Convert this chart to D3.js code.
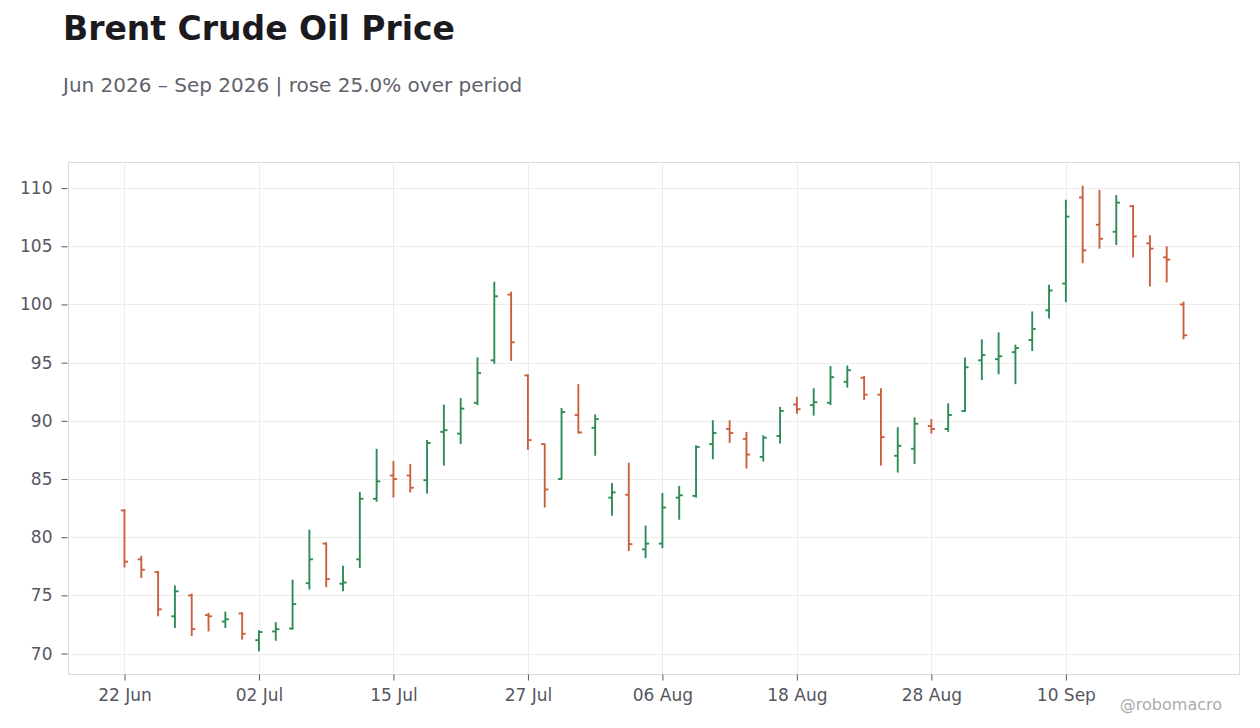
<!DOCTYPE html>
<html>
<head>
<meta charset="utf-8">
<script src="https://cdn.jsdelivr.net/npm/d3@7"></script>
<style>
  html, body { margin: 0; padding: 0; background: #ffffff; }
  svg { display: block; font-family: "DejaVu Sans", sans-serif; }
</style>
</head>
<body>
<svg id="chart" width="1260" height="728"></svg>
<script>
// ---- Data ----
const dates = [
  "2026-06-22","2026-06-23","2026-06-24","2026-06-25","2026-06-26","2026-06-29","2026-06-30","2026-07-01",
  "2026-07-02","2026-07-06","2026-07-07","2026-07-08","2026-07-09","2026-07-10","2026-07-13","2026-07-14",
  "2026-07-15","2026-07-16","2026-07-17","2026-07-20","2026-07-21","2026-07-22","2026-07-23","2026-07-24",
  "2026-07-27","2026-07-28","2026-07-29","2026-07-30","2026-07-31","2026-08-03","2026-08-04","2026-08-05",
  "2026-08-06","2026-08-07","2026-08-10","2026-08-11","2026-08-12","2026-08-13","2026-08-14","2026-08-17",
  "2026-08-18","2026-08-19","2026-08-20","2026-08-21","2026-08-24","2026-08-25","2026-08-26","2026-08-27",
  "2026-08-28","2026-08-31","2026-09-01","2026-09-02","2026-09-03","2026-09-04","2026-09-08","2026-09-09",
  "2026-09-10","2026-09-11","2026-09-14","2026-09-15","2026-09-16","2026-09-17","2026-09-18","2026-09-21"
];
const openValues = [
  82.3, 78.1, 77.0, 73.2, 75.0, 73.3, 72.75, 73.45, 71.15, 71.9, 72.15, 76.05, 79.45, 76.0, 78.1, 83.3,
  85.3, 85.3, 84.9, 89.05, 88.9, 91.55, 95.2, 100.85, 93.9, 88.0, 85.0, 90.5, 89.4, 83.4, 83.65, 78.95,
  79.45, 83.4, 83.55, 88.0, 89.3, 88.45, 86.9, 88.7, 91.4, 91.35, 91.55, 93.35, 93.7, 92.25, 87.0, 87.6,
  89.55, 89.3, 90.85, 95.2, 95.3, 95.9, 96.95, 99.5, 101.8, 109.2, 106.85, 106.25, 108.45, 105.25, 104.05, 100.0
];
const highValues = [
  82.4, 78.4, 77.1, 75.85, 75.15, 73.5, 73.6, 73.55, 72.0, 72.7, 76.35, 80.65, 79.55, 77.55, 83.9, 87.6,
  86.55, 86.3, 88.35, 91.4, 91.95, 95.45, 101.95, 101.1, 94.0, 88.05, 91.1, 93.15, 90.55, 84.65, 86.4, 81.0,
  83.8, 84.4, 87.9, 90.05, 90.05, 89.05, 88.75, 91.2, 92.05, 92.8, 94.7, 94.75, 93.85, 92.8, 89.45, 90.3,
  90.15, 91.5, 95.45, 97.0, 97.6, 96.55, 99.4, 101.7, 109.0, 110.2, 109.85, 109.4, 108.55, 105.95, 105.0, 100.25
];
const lowValues = [
  77.4, 76.5, 73.2, 72.2, 71.5, 71.9, 72.2, 71.2, 70.2, 71.1, 72.05, 75.5, 75.7, 75.35, 77.35, 83.05,
  83.4, 83.85, 83.75, 86.15, 88.0, 91.35, 94.9, 95.15, 87.5, 82.55, 84.95, 88.9, 87.0, 81.85, 78.8, 78.2,
  79.05, 81.5, 83.4, 86.7, 88.1, 85.9, 86.5, 88.05, 90.6, 90.45, 91.35, 92.85, 91.8, 86.15, 85.55, 86.3,
  88.9, 89.05, 90.75, 93.5, 94.0, 93.15, 96.0, 98.8, 100.2, 103.55, 104.8, 105.1, 104.05, 101.55, 101.9, 97.0
];
const closeValues = [
  77.9, 77.2, 73.8, 75.35, 72.1, 73.2, 72.95, 71.7, 71.85, 72.1, 74.25, 78.1, 76.4, 76.1, 83.3, 84.8,
  85.0, 84.25, 88.1, 89.2, 91.05, 94.1, 100.7, 96.75, 88.35, 84.1, 90.75, 89.0, 90.15, 83.85, 79.4, 79.45,
  82.55, 83.6, 87.75, 88.95, 88.95, 87.1, 88.55, 90.85, 91.0, 91.6, 93.75, 94.35, 92.25, 88.6, 87.85, 89.75,
  89.3, 90.5, 94.6, 95.65, 95.55, 96.25, 97.9, 101.2, 107.55, 104.65, 105.65, 108.75, 105.85, 104.8, 103.85, 97.35
];
const xTickIndex = [0, 8, 16, 24, 32, 40, 48, 56];
const xTickLabels = ["22 Jun", "02 Jul", "15 Jul", "27 Jul", "06 Aug", "18 Aug", "28 Aug", "10 Sep"];
const yTickValues = [70, 75, 80, 85, 90, 95, 100, 105, 110];

const titleText = "Brent Crude Oil Price";
const subtitleText = "Jun 2026 \u2013 Sep 2026 | rose 25.0% over period";
const creditText = "@robomacro";

// ---- Build rows ----
const rows = dates.map((d, i) => ({
  i, date: d, open: openValues[i], high: highValues[i], low: lowValues[i], close: closeValues[i]
}));

// ---- Layout ----
const svg = d3.select("#chart");
const plot = { left: 68.5, right: 1239.5, top: 162.5, bottom: 674.5 };
const UP = "#2e8b57", DOWN = "#cb5f3d";
const TEXT = "#55565f";

const lo = d3.min(lowValues), hi = d3.max(highValues);
const pad = (hi - lo) * 0.05;
const y = d3.scaleLinear().domain([lo - pad, hi + pad]).range([plot.bottom, plot.top]);
const x = d3.scaleLinear().domain([-3.33, rows.length - 1 + 3.33]).range([plot.left, plot.right]);

// Title & subtitle
svg.append("text").attr("x", 63).attr("y", 40)
  .attr("font-size", 33).attr("font-weight", "bold").attr("fill", "#1b1b1f")
  .text(titleText);
svg.append("text").attr("x", 63).attr("y", 92)
  .attr("font-size", 20).attr("fill", "#60626b")
  .text(subtitleText);

// Gridlines
const grid = svg.append("g");
grid.selectAll("line.h").data(yTickValues).join("line")
  .attr("x1", plot.left).attr("x2", plot.right)
  .attr("y1", d => Math.round(y(d)) + 0.5).attr("y2", d => Math.round(y(d)) + 0.5)
  .attr("stroke", "#ececec").attr("stroke-width", 1);
grid.selectAll("line.v").data(xTickIndex).join("line")
  .attr("y1", plot.top).attr("y2", plot.bottom)
  .attr("x1", d => Math.round(x(d)) + 0.5).attr("x2", d => Math.round(x(d)) + 0.5)
  .attr("stroke", "#ececec").attr("stroke-width", 1);

// Frame
svg.append("rect")
  .attr("x", plot.left).attr("y", plot.top)
  .attr("width", plot.right - plot.left).attr("height", plot.bottom - plot.top)
  .attr("fill", "none").attr("stroke", "#dcdcdf").attr("stroke-width", 1);

// Axes
const xAxis = d3.axisBottom(x).tickValues(xTickIndex)
  .tickFormat((d, k) => xTickLabels[k]).tickSize(6).tickPadding(8);
const gx = svg.append("g").attr("transform", `translate(0,${plot.bottom})`).call(xAxis);
gx.select(".domain").remove();
gx.selectAll(".tick line").attr("stroke", "#55565f");
gx.selectAll(".tick text").attr("fill", TEXT).attr("font-size", 17)
  .attr("font-family", "DejaVu Sans, sans-serif");

const yAxis = d3.axisLeft(y).tickValues(yTickValues).tickSize(6).tickPadding(9);
const gy = svg.append("g").attr("transform", `translate(${plot.left - 1},0)`).call(yAxis);
gy.select(".domain").remove();
gy.selectAll(".tick line").attr("stroke", "#55565f");
gy.selectAll(".tick text").attr("fill", TEXT).attr("font-size", 17)
  .attr("font-family", "DejaVu Sans, sans-serif");

// OHLC bars
const bars = svg.append("g").selectAll("g.bar").data(rows).join("g")
  .attr("class", "bar")
  .attr("stroke", d => d.close >= d.open ? UP : DOWN);
bars.append("line")
  .attr("x1", d => x(d.i)).attr("x2", d => x(d.i))
  .attr("y1", d => y(d.high)).attr("y2", d => y(d.low))
  .attr("stroke-width", 1.9);
bars.append("line")
  .attr("x1", d => x(d.i) - 3.6).attr("x2", d => x(d.i))
  .attr("y1", d => y(d.open)).attr("y2", d => y(d.open))
  .attr("stroke-width", 1.9);
bars.append("line")
  .attr("x1", d => x(d.i)).attr("x2", d => x(d.i) + 3.6)
  .attr("y1", d => y(d.close)).attr("y2", d => y(d.close))
  .attr("stroke-width", 1.9);

// Credit
svg.append("text").attr("x", 1222).attr("y", 710).attr("text-anchor", "end")
  .attr("font-size", 16).attr("fill", "#ababab")
  .text(creditText);
</script>
</body>
</html>
